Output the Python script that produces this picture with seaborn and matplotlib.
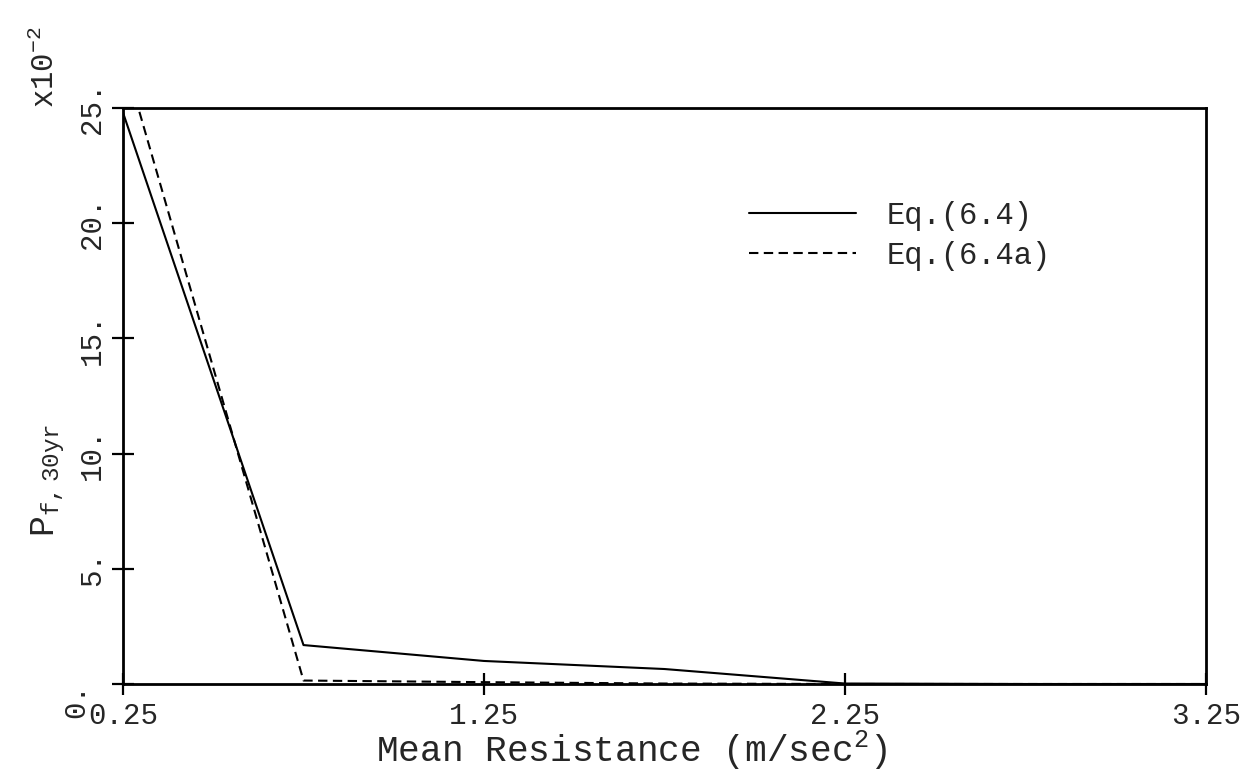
import numpy as np
import pandas as pd
import matplotlib
matplotlib.use("Agg")
import matplotlib.pyplot as plt
import matplotlib.transforms as mtransforms
import seaborn as sns

# ---- data ----
mean_resistance = [0.25, 0.75, 1.25, 1.75, 2.25, 2.75, 3.25]
eq_6_4 = [24.8, 1.69, 1.00, 0.65, 0.02, 0.0, 0.0]
eq_6_4a = [27.3, 0.15, 0.08, 0.02, 0.0, 0.0, 0.0]
series_names = ["Eq.(6.4)", "Eq.(6.4a)"]
x_ticks = [0.25, 1.25, 2.25, 3.25]
x_tick_labels = ["0.25", "1.25", "2.25", "3.25"]
y_ticks = [0, 5, 10, 15, 20, 25]
y_tick_labels = ["0.", "5.", "10.", "15.", "20.", "25."]

df = pd.DataFrame({
    "x": mean_resistance * 2,
    "y": eq_6_4 + eq_6_4a,
    "series": [series_names[0]] * len(mean_resistance) + [series_names[1]] * len(mean_resistance),
})

sns.set_style("ticks")
plt.rcParams["font.family"] = ["Liberation Mono", "DejaVu Sans"]
plt.rcParams["mathtext.default"] = "regular"

fig = plt.figure(figsize=(12.54, 7.78), dpi=100)
ax = fig.add_axes([123 / 1254, 1 - 684 / 778, (1206 - 123) / 1254, (684 - 108) / 778])

sns.lineplot(data=df, x="x", y="y", style="series", style_order=series_names,
             dashes={series_names[0]: "", series_names[1]: (4.5, 2.6)},
             color="black", linewidth=1.5, ax=ax, sort=False)

ax.set_xlim(0.25, 3.25)
ax.set_ylim(0, 25)
ax.set_xticks(x_ticks)
ax.set_xticklabels(x_tick_labels, fontsize=21)
ax.set_yticks(y_ticks)
ax.set_yticklabels(y_tick_labels, fontsize=21, rotation=90, va="center")
ax.tick_params(axis="both", direction="inout", length=16, width=1.6, color="black")
ax.tick_params(axis="x", pad=5)
ax.tick_params(axis="y", pad=4)

for sp in ax.spines.values():
    sp.set_visible(True)
    sp.set_linewidth(2.0)
    sp.set_color("black")

# shift the "0." label like in the reference
lab0 = ax.get_yticklabels()[0]
lab0.set_transform(lab0.get_transform() + mtransforms.ScaledTranslation(-0.16, -0.16, fig.dpi_scale_trans))

ax.set_xlabel("Mean Resistance (m/sec$^2$)", fontsize=26)
ax.xaxis.set_label_coords(0.47, -0.078)
ax.set_ylabel("P$_{f,30yr}$", fontsize=25)
ax.yaxis.set_label_coords(-0.052, 0.354)

ax.text(-0.071, 1.0, "x10$^{-2}$", rotation=90, ha="center", va="bottom",
        fontsize=22, transform=ax.transAxes)

leg = ax.legend(loc="upper left", bbox_to_anchor=(0.553, 0.887), frameon=False,
                fontsize=22, handlelength=3.5, handletextpad=1.0, labelspacing=0.33)

fig.savefig("out.png", dpi=100, facecolor="white")
